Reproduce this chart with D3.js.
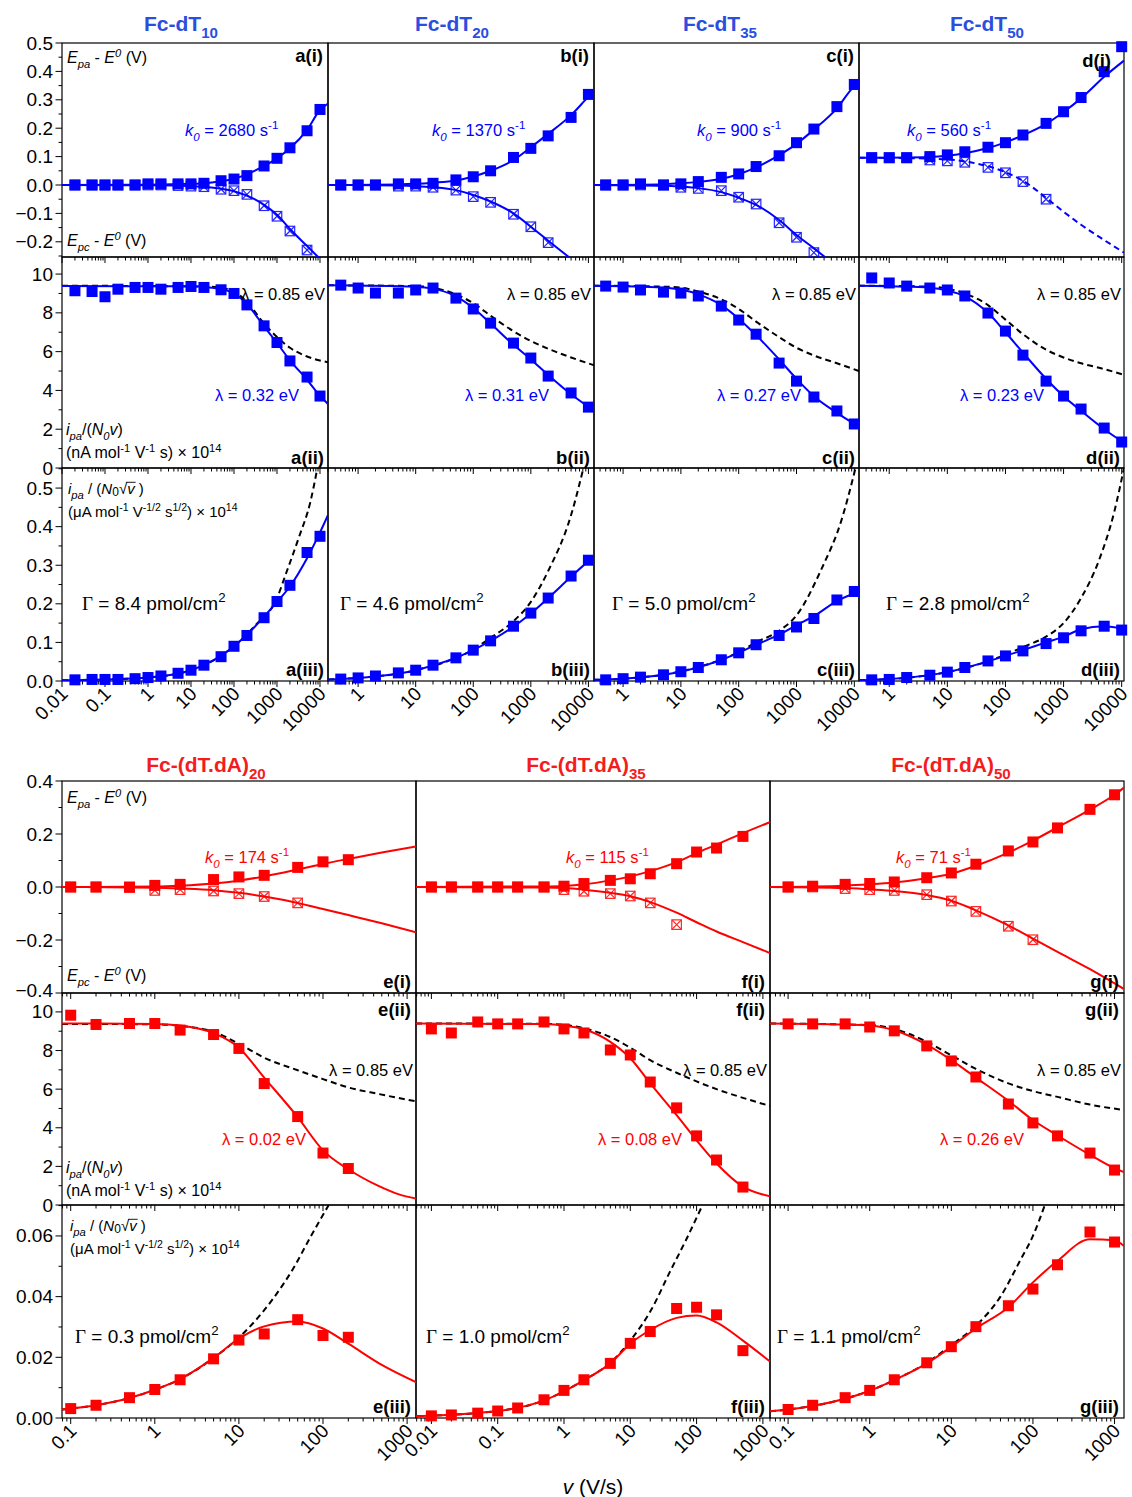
<!DOCTYPE html>
<html><head><meta charset="utf-8">
<script src="https://cdn.jsdelivr.net/npm/d3@7"></script>
<style>
body{margin:0;background:#fff}
svg{display:block}
text{font-family:"Liberation Sans",Arial,sans-serif}
</style>
</head><body>
<svg id="fig" width="1132" height="1497"></svg>
<script>
// ---------- scan rates (V/s) ----------
const vTopA   = [0.02,0.05,0.1,0.2,0.5,1,2,5,10,20,50,100,200,500,1000,2000,5000,10000];
const vTopBCD = [0.5,1,2,5,10,20,50,100,200,500,1000,2000,5000,10000];
const vBotE   = [0.1,0.2,0.5,1,2,5,10,20,50,100,200];
const vBotF   = [0.01,0.02,0.05,0.1,0.2,0.5,1,2,5,10,20,50,100,200,500];
const vBotG   = [0.1,0.2,0.5,1,2,5,10,20,50,100,200,500,1000];

// ---------- axis ranges and ticks ----------
const xRangeTop = [[0.01,15350],[0.3,12500],[0.314,12050],[0.302,10960]];
const xRangeBot = [[0.0788,1276],[0.00586,1280],[0.06,1306]];
const yRangeTop = [[-0.2535,0.5],[0,10.88],[0,0.552]];
const yRangeBot = [[-0.4,0.4],[0,10.98],[0,0.0702]];
const xTicksTopA   = [0.01,0.1,1,10,100,1000,10000];
const xTicksTopBCD = [1,10,100,1000,10000];
const xTicksBotE = [0.1,1,10,100,1000];
const xTicksBotF = [0.01,0.1,1,10,100,1000];
const xTicksBotG = [0.1,1,10,100,1000];
const xLabelsTopA   = ["0.01","0.1","1","10","100","1000","10000"];
const xLabelsTopBCD = ["1","10","100","1000","10000"];
const xLabelsBotE = ["0.1","1","10","100","1000"];
const xLabelsBotF = ["0.01","0.1","1","10","100","1000"];
const xLabelsBotG = ["0.1","1","10","100","1000"];
const yTicksTop1 = [-0.2,-0.1,0,0.1,0.2,0.3,0.4,0.5];
const yTicksTop2 = [0,2,4,6,8,10];
const yTicksTop3 = [0,0.1,0.2,0.3,0.4,0.5];
const yTicksBot1 = [-0.4,-0.2,0,0.2,0.4];
const yTicksBot2 = [0,2,4,6,8,10];
const yTicksBot3 = [0,0.02,0.04,0.06];

// ---------- (i) peak potentials, Epa - E0 and Epc - E0 (V) ----------
const epaA = [0,0,0,0,0,0.004,0.004,0.004,0.004,0.006,0.015,0.021,0.033,0.067,0.094,0.131,0.191,0.266];
const epcA = [0,0,0,0,0,0,0,-0.002,-0.004,-0.006,-0.015,-0.02,-0.033,-0.073,-0.11,-0.162,-0.229,null];
const epaB = [0,0,0,0.004,0.004,0.006,0.018,0.029,0.05,0.097,0.129,0.173,0.238,0.319];
const epcB = [0,0,0,-0.004,-0.004,-0.008,-0.018,-0.041,-0.061,-0.103,-0.147,-0.203,null,null];
const epaC = [0,0,0.004,0,0.004,0.012,0.027,0.039,0.065,0.103,0.149,0.197,0.276,0.354];
const epcC = [0,0,0,0,-0.008,-0.012,-0.02,-0.043,-0.067,-0.133,-0.184,-0.238,null,null];
const epaD = [0.096,0.096,0.096,0.1,0.106,0.117,0.133,0.149,0.176,0.217,0.258,0.308,0.399,0.487];
const epcD = [0.096,0.096,0.096,0.088,0.085,0.08,0.062,0.043,0.012,-0.05,null,null,null,null];
const epaE = [0,0,0,0.006,0.01,0.028,0.038,0.044,0.074,0.095,0.103];
const epcE = [0,0,-0.002,-0.013,-0.01,-0.015,-0.025,-0.036,-0.06,null,null];
const epaF = [0,0,0,0,0,0,0.003,0.013,0.025,0.031,0.05,0.088,0.132,0.147,0.191];
const epcF = [0,0,0,0,0,0,-0.01,-0.016,-0.025,-0.034,-0.06,-0.142,null,null,null];
const epaG = [0,0.003,0.01,0.013,0.019,0.035,0.053,0.086,0.136,0.17,0.223,0.293,0.348];
const epcG = [0,0,-0.006,-0.01,-0.013,-0.029,-0.053,-0.092,-0.148,-0.199,null,null,null];

// fitted peak-potential curves [v, E]
const fitEpaA = [[0.01,0],[1,0.001],[10,0.004],[30,0.009],[100,0.022],[300,0.05],[500,0.067],[1000,0.094],[2000,0.129],[5000,0.194],[10000,0.264],[15350,0.287]];
const fitEpcA = [[0.01,0],[1,-0.001],[10,-0.004],[30,-0.009],[100,-0.022],[300,-0.05],[500,-0.07],[1000,-0.105],[2000,-0.155],[5000,-0.215],[10000,-0.26]];
const fitEpaB = [[0.3,0],[5,0.002],[10,0.004],[20,0.008],[50,0.016],[100,0.03],[200,0.05],[500,0.088],[1000,0.133],[2000,0.18],[5000,0.246],[10000,0.311],[12500,0.331]];
const fitEpcB = [[0.3,0],[5,-0.002],[10,-0.004],[20,-0.008],[50,-0.018],[100,-0.035],[200,-0.058],[500,-0.1],[1000,-0.147],[2000,-0.196],[5000,-0.26]];
const fitEpaC = [[0.31,0],[5,0.003],[10,0.006],[20,0.011],[50,0.022],[100,0.038],[200,0.062],[500,0.105],[1000,0.145],[2000,0.195],[5000,0.27],[10000,0.348],[12050,0.36]];
const fitEpcC = [[0.31,0],[5,-0.003],[10,-0.006],[20,-0.011],[50,-0.025],[100,-0.045],[200,-0.07],[500,-0.123],[1000,-0.176],[2000,-0.223],[3400,-0.26]];
const fitEpaD = [[0.3,0.096],[5,0.099],[20,0.112],[50,0.13],[100,0.15],[200,0.175],[500,0.215],[1000,0.257],[2000,0.305],[5000,0.381],[10960,0.438]];
const dashEpcD = [[0.3,0.096],[5,0.093],[20,0.083],[50,0.066],[100,0.045],[200,0.015],[500,-0.045],[1000,-0.094],[2000,-0.14],[5000,-0.194],[10960,-0.238]];
const fitEpaE = [[0.0788,0],[1,0.002],[2,0.005],[5,0.013],[10,0.024],[20,0.04],[50,0.066],[100,0.087],[200,0.106],[500,0.13],[1276,0.153]];
const fitEpcE = [[0.0788,0],[1,-0.003],[2,-0.006],[5,-0.012],[10,-0.022],[20,-0.036],[50,-0.06],[100,-0.083],[200,-0.106],[500,-0.137],[1276,-0.171]];
const fitEpaF = [[0.00586,0],[0.5,0.002],[1,0.004],[2,0.01],[5,0.025],[10,0.04],[20,0.06],[50,0.094],[100,0.128],[200,0.16],[500,0.203],[1280,0.245]];
const fitEpcF = [[0.00586,0],[0.5,-0.002],[1,-0.004],[2,-0.01],[5,-0.022],[10,-0.035],[20,-0.057],[50,-0.097],[100,-0.133],[200,-0.168],[500,-0.208],[1280,-0.249]];
const fitEpaG = [[0.06,0],[0.5,0.005],[1,0.01],[2,0.017],[5,0.033],[10,0.05],[20,0.08],[50,0.13],[100,0.175],[200,0.225],[500,0.292],[1000,0.348],[1306,0.375]];
const fitEpcG = [[0.06,0],[0.5,-0.004],[1,-0.009],[2,-0.015],[5,-0.03],[10,-0.052],[20,-0.088],[50,-0.145],[100,-0.195],[200,-0.245],[500,-0.31],[1306,-0.385]];

// ---------- (ii) ipa/(N0 v) ----------
const ipvA = [9.14,9.1,8.83,9.22,9.31,9.31,9.22,9.31,9.36,9.31,9.19,9.0,8.41,7.33,6.47,5.52,4.69,3.71];
const ipvB = [9.43,9.28,9.02,9.02,9.18,9.28,8.76,8.2,7.47,6.44,5.67,4.74,3.87,3.14];
const ipvC = [9.38,9.33,9.18,9.07,9.02,8.87,8.35,7.63,6.9,5.41,4.48,3.66,2.94,2.27];
const ipvD = [9.8,9.54,9.38,9.28,9.18,8.87,7.99,7.06,5.82,4.48,3.71,3.04,2.06,1.34];
const ipvE = [9.83,9.35,9.4,9.4,9.06,8.83,8.11,6.29,4.58,2.69,1.89];
const ipvF = [9.12,8.91,9.48,9.38,9.38,9.48,9.12,8.91,8.03,7.77,6.37,5.03,3.58,2.33,0.93];
const ipvG = [9.38,9.38,9.38,9.22,9.02,8.24,7.46,6.63,5.23,4.25,3.58,2.69,1.81];

const fitIpvA = [[0.01,9.38],[10,9.37],[30,9.3],[50,9.22],[100,9.0],[200,8.45],[500,7.3],[1000,6.45],[2000,5.55],[5000,4.55],[10000,3.72],[15350,3.3]];
const lamIpvA = [[0.01,9.4],[30,9.35],[100,9.1],[200,8.55],[500,7.45],[1000,6.75],[2000,6.2],[5000,5.75],[15350,5.45]];
const fitIpvB = [[0.3,9.42],[10,9.35],[20,9.25],[50,8.85],[100,8.25],[200,7.45],[500,6.35],[1000,5.6],[2000,4.8],[5000,3.8],[10000,3.15],[12500,2.95]];
const lamIpvB = [[0.3,9.42],[10,9.38],[20,9.3],[50,8.95],[100,8.5],[200,7.85],[500,7.05],[1000,6.55],[2000,6.15],[5000,5.7],[12500,5.3]];
const fitIpvC = [[0.31,9.4],[5,9.3],[10,9.2],[20,8.95],[50,8.4],[100,7.7],[200,6.85],[500,5.6],[1000,4.6],[2000,3.7],[5000,2.85],[10000,2.3],[12050,2.2]];
const lamIpvC = [[0.31,9.4],[5,9.35],[10,9.3],[20,9.1],[50,8.7],[100,8.2],[200,7.55],[500,6.75],[1000,6.2],[2000,5.8],[5000,5.4],[12050,5.0]];
const fitIpvD = [[0.3,9.4],[2,9.35],[5,9.3],[10,9.15],[20,8.85],[50,8.0],[100,7.0],[200,5.95],[500,4.6],[1000,3.7],[2000,2.95],[5000,2.0],[10960,1.3]];
const lamIpvD = [[0.3,9.4],[5,9.35],[10,9.25],[20,9.0],[50,8.4],[100,7.65],[200,6.9],[500,6.1],[1000,5.7],[2000,5.4],[5000,5.1],[10960,4.8]];
const fitIpvE = [[0.0788,9.4],[1,9.38],[2,9.3],[5,8.9],[10,8.15],[20,6.6],[50,4.55],[100,2.83],[200,1.85],[450,1.0],[800,0.55],[1276,0.34]];
const lamIpvE = [[0.0788,9.38],[1,9.36],[2,9.28],[5,8.97],[10,8.35],[20,7.63],[50,6.98],[100,6.52],[200,6.09],[457,5.75],[1276,5.37]];
const fitIpvF = [[0.00586,9.4],[0.5,9.37],[1,9.3],[2,9.1],[5,8.45],[10,7.6],[20,6.3],[50,4.65],[100,3.35],[200,2.15],[500,0.95],[1280,0.45]];
const lamIpvF = [[0.00586,9.4],[0.5,9.38],[1,9.33],[2,9.15],[5,8.7],[10,8.15],[20,7.5],[50,6.85],[100,6.4],[200,6.0],[500,5.55],[1280,5.13]];
const fitIpvG = [[0.06,9.4],[1,9.3],[2,9.05],[5,8.3],[10,7.5],[20,6.6],[50,5.4],[100,4.4],[200,3.6],[500,2.6],[1000,1.9],[1306,1.7]];
const lamIpvG = [[0.06,9.4],[1,9.32],[2,9.12],[5,8.45],[10,7.75],[20,7.05],[50,6.3],[100,5.9],[200,5.6],[500,5.2],[1306,4.92]];

// ---------- (iii) ipa/(N0 sqrt v) ----------
const ipsA = [0.003,0.004,0.004,0.004,0.006,0.009,0.013,0.02,0.028,0.041,0.063,0.09,0.118,0.164,0.206,0.248,0.333,0.375];
const ipsB = [0.005,0.008,0.013,0.021,0.028,0.041,0.06,0.08,0.104,0.142,0.176,0.215,0.272,0.313];
const ipsC = [0.003,0.006,0.01,0.016,0.024,0.035,0.055,0.073,0.094,0.118,0.14,0.162,0.21,0.232];
const ipsD = [0.003,0.004,0.009,0.015,0.023,0.035,0.052,0.065,0.078,0.097,0.112,0.13,0.142,0.132];
const ipsE = [0.0031,0.0042,0.0067,0.0094,0.0126,0.0195,0.0257,0.0277,0.0324,0.0272,0.0266];
const ipsF = [0.0007,0.001,0.0016,0.0023,0.0033,0.006,0.0091,0.0126,0.018,0.0246,0.0285,0.0361,0.0365,0.034,0.0222];
const ipsG = [0.0028,0.0042,0.0067,0.0091,0.0126,0.0182,0.0235,0.0301,0.037,0.0425,0.0505,0.0613,0.058];

const fitIpsA = [[0.01,0.002],[0.1,0.004],[1,0.009],[10,0.028],[100,0.09],[300,0.14],[1000,0.205],[2000,0.245],[5000,0.318],[10000,0.385],[15350,0.43]];
const revIpsA = [[0.01,0.002],[0.1,0.004],[1,0.009],[10,0.028],[100,0.09],[300,0.142],[1000,0.215],[1590,0.276],[3200,0.371],[6000,0.465],[8700,0.552]];
const fitIpsB = [[0.3,0.004],[1,0.008],[10,0.028],[100,0.08],[1000,0.175],[2000,0.215],[5000,0.27],[10000,0.31],[12500,0.32]];
const revIpsB = [[0.3,0.004],[1,0.008],[10,0.028],[100,0.082],[200,0.112],[500,0.155],[1000,0.205],[2000,0.285],[5000,0.43],[8200,0.552]];
const fitIpsC = [[0.31,0.003],[1,0.006],[10,0.024],[100,0.073],[200,0.094],[500,0.12],[1000,0.145],[2000,0.168],[5000,0.207],[10000,0.226],[12050,0.228]];
const revIpsC = [[0.31,0.003],[1,0.006],[10,0.025],[100,0.075],[200,0.1],[500,0.13],[1000,0.17],[2700,0.29],[6000,0.417],[10500,0.552]];
const fitIpsD = [[0.3,0.002],[1,0.005],[10,0.023],[100,0.065],[200,0.08],[500,0.1],[1000,0.115],[2000,0.134],[5000,0.142],[10960,0.135]];
const revIpsD = [[0.3,0.002],[1,0.005],[10,0.023],[100,0.068],[200,0.088],[500,0.115],[1000,0.15],[2000,0.215],[4000,0.31],[7500,0.44],[10960,0.552]];
const fitIpsE = [[0.0788,0.0028],[0.2,0.0042],[0.5,0.0066],[1,0.0093],[2,0.0128],[5,0.0198],[10,0.0262],[20,0.0302],[50,0.0318],[100,0.0295],[200,0.0245],[500,0.0175],[1276,0.0118]];
const revIpsE = [[0.0788,0.0028],[0.2,0.0042],[0.5,0.0066],[1,0.0093],[2,0.0128],[5,0.0198],[10,0.0265],[25,0.039],[45,0.0496],[72,0.06],[117,0.0702]];
const fitIpsF = [[0.00586,0.0006],[0.1,0.0023],[0.5,0.0058],[1,0.0088],[2,0.0125],[5,0.018],[10,0.0245],[20,0.029],[50,0.033],[100,0.0338],[200,0.0315],[500,0.0255],[1280,0.0186]];
const revIpsF = [[0.00586,0.0006],[0.1,0.0023],[0.5,0.0058],[1,0.0088],[2,0.0125],[5,0.0182],[10,0.0255],[21,0.0359],[39,0.0479],[69,0.0586],[123,0.0702]];
const fitIpsG = [[0.06,0.0022],[0.1,0.0028],[1,0.009],[2,0.0125],[5,0.018],[10,0.0235],[20,0.0295],[50,0.0365],[100,0.0447],[200,0.0518],[500,0.0589],[1000,0.0586],[1306,0.0567]];
const revIpsG = [[0.06,0.0022],[0.1,0.0028],[1,0.009],[2,0.0125],[5,0.0182],[10,0.024],[20,0.0304],[40,0.04],[70,0.052],[100,0.06],[140,0.0702]];

// ---------- annotation values ----------
const chainTop = ["10","20","35","50"];
const chainBot = ["20","35","50"];
const k0Top = ["2680","1370","900","560"];
const k0Bot = ["174","115","71"];
const lambdaTop = ["0.32","0.31","0.27","0.23"];
const lambdaBot = ["0.02","0.08","0.26"];
const lambdaRef = "0.85";
const gammaTop = ["8.4","4.6","5.0","2.8"];
const gammaBot = ["0.3","1.0","1.1"];
const lettersTop = ["a","b","c","d"];
const lettersBot = ["e","f","g"];

// ================= drawing =================
const BLUE = "#0000ff", RED = "#ff0000";
const TITLE_BLUE = "#2a4ee0", TITLE_RED = "#f41c1c";
const svg = d3.select("#fig");
const defs = svg.append("defs");
const L = {};
["axes","curves","open","filled","text"].forEach(k => L[k] = svg.append("g"));
let clipCount = 0;

const colsTop = [[62,328],[328,594],[594,859],[859,1124]];
const rowsTop = [[43,257],[257,468],[468,681]];
const colsBot = [[62,416],[416,770],[770,1124]];
const rowsBot = [[781,993],[993,1205],[1205,1418]];

function rich(sel, x, y, parts, o = {}) {
  const fs = o.size || 16;
  const t = sel.append("text").attr("x", x).attr("y", y)
    .attr("font-size", fs).attr("fill", o.color || "#000")
    .attr("text-anchor", o.anchor || "start");
  if (o.weight) t.attr("font-weight", o.weight);
  let off = 0, idx = 0;
  const overs = [];
  parts.forEach(p => {
    if (typeof p === "string") p = { t: p };
    const target = p.sub ? (p.shift || 0.3) * fs : p.sup ? -(p.shift || 0.4) * fs : 0;
    const ts = t.append("tspan").text(p.t).attr("dy", target - off);
    off = target;
    if (p.sub || p.sup) ts.attr("font-size", (p.scale || 0.7) * fs);
    if (p.size) ts.attr("font-size", p.size);
    if (p.i) ts.attr("font-style", "italic");
    if (p.serif) ts.attr("font-family", "'Liberation Serif','Times New Roman',serif");
    if (p.over) overs.push([idx, idx + p.t.length - 1]);
    idx += p.t.length;
  });
  overs.forEach(([a, b]) => {
    const n = t.node();
    const s = n.getStartPositionOfChar(a), e = n.getEndPositionOfChar(b);
    sel.append("line").attr("x1", s.x - 1).attr("x2", e.x + 1)
      .attr("y1", s.y - fs * 0.78).attr("y2", s.y - fs * 0.78)
      .attr("stroke", o.color || "#000").attr("stroke-width", 0.9);
  });
  return t;
}

function makePanel(c, r, xdom, ydom) {
  const x = d3.scaleLog().domain(xdom).range([c[0], c[1]]);
  const y = d3.scaleLinear().domain(ydom).range([r[1], r[0]]);
  const id = "cp" + (clipCount++);
  defs.append("clipPath").attr("id", id).append("rect")
    .attr("x", c[0]).attr("y", r[0]).attr("width", c[1] - c[0]).attr("height", r[1] - r[0]);
  L.axes.append("rect").attr("x", c[0]).attr("y", r[0])
    .attr("width", c[1] - c[0]).attr("height", r[1] - r[0])
    .attr("fill", "none").attr("stroke", "#000").attr("stroke-width", 1.2);
  return { x, y, c, r, clip: id };
}

function xAxis(P, major, labels) {
  const [a, b] = P.x.domain();
  const ay = P.r[1];
  const g = L.axes.append("g").attr("stroke", "#000").attr("stroke-width", 1);
  for (let d = Math.floor(Math.log10(a)); d <= Math.ceil(Math.log10(b)); d++) {
    for (let k = 1; k <= 9; k++) {
      const v = k * Math.pow(10, d);
      if (v < a * 0.999 || v > b * 1.001) continue;
      const len = k === 1 ? 6 : 3.5;
      g.append("line").attr("x1", P.x(v)).attr("x2", P.x(v)).attr("y1", ay).attr("y2", ay + len);
    }
  }
  if (labels) {
    major.forEach((v, i) => {
      const tx = P.x(v);
      L.text.append("text").attr("text-anchor", "end").attr("font-size", 19)
        .attr("transform", `translate(${tx + 7},${ay + 14}) rotate(-45)`)
        .text(labels[i]);
    });
  }
}

// lowNudge lifts the label sitting on the bottom edge so it clears the panel below
function yAxis(P, major, minorStep, fmt, lowNudge = 0) {
  const [a, b] = P.y.domain();
  const x0 = P.c[0];
  const g = L.axes.append("g").attr("stroke", "#000").attr("stroke-width", 1);
  const n0 = Math.ceil(a / minorStep - 1e-6), n1 = Math.floor(b / minorStep + 1e-6);
  for (let n = n0; n <= n1; n++) {
    const v = n * minorStep;
    const isMajor = major.some(m => Math.abs(m - v) < minorStep * 1e-3);
    g.append("line").attr("x1", x0).attr("x2", x0 - (isMajor ? 6.5 : 3.5))
      .attr("y1", P.y(v)).attr("y2", P.y(v));
  }
  major.forEach(v => {
    const dy = Math.abs(v - a) < 1e-9 ? lowNudge : 0;
    L.text.append("text").attr("x", x0 - 9).attr("y", P.y(v) + 6.5 - dy)
      .attr("text-anchor", "end").attr("font-size", 19).text(d3.format(fmt)(v));
  });
}

function curve(P, pts, color, dashed) {
  L.curves.append("path").attr("clip-path", `url(#${P.clip})`)
    .datum(pts)
    .attr("d", d3.line().x(d => P.x(d[0])).y(d => P.y(d[1])).curve(d3.curveMonotoneX))
    .attr("fill", "none").attr("stroke", color).attr("stroke-width", 2)
    .attr("stroke-dasharray", dashed ? "6,4" : null);
}

function filled(P, xs, ys, color) {
  const s = 11;
  xs.forEach((v, i) => {
    if (ys[i] == null) return;
    L.filled.append("rect").attr("x", P.x(v) - s / 2).attr("y", P.y(ys[i]) - s / 2)
      .attr("width", s).attr("height", s).attr("fill", color);
  });
}

function open(P, xs, ys, color) {
  const s = 9.5;
  xs.forEach((v, i) => {
    if (ys[i] == null) return;
    const cx = P.x(v), cy = P.y(ys[i]);
    const g = L.open.append("g").attr("stroke", color).attr("stroke-width", 1.2)
      .attr("fill", "none").attr("opacity", 0.85);
    g.append("rect").attr("x", cx - s / 2).attr("y", cy - s / 2).attr("width", s).attr("height", s);
    g.append("line").attr("x1", cx - s / 2).attr("y1", cy - s / 2).attr("x2", cx + s / 2).attr("y2", cy + s / 2);
    g.append("line").attr("x1", cx + s / 2).attr("y1", cy - s / 2).attr("x2", cx - s / 2).attr("y2", cy + s / 2);
  });
}

function panelId(x, y, letter, roman) {
  L.text.append("text").attr("x", x).attr("y", y).attr("text-anchor", "end")
    .attr("font-size", 18.5).attr("font-weight", "bold").text(`${letter}(${roman})`);
}

const epLabel = (sel, x, y, which) => rich(sel, x, y,
  [{ t: "E", i: 1 }, { t: which, i: 1, sub: 1 }, " - ", { t: "E", i: 1 }, { t: "0", i: 1, sup: 1 }, " (V)"], { size: 16 });
const ipvLabel = (sel, x, y1, y2) => {
  rich(sel, x, y1, [{ t: "i", i: 1 }, { t: "pa", i: 1, sub: 1 }, "/(", { t: "N", i: 1 }, { t: "0", i: 1, sub: 1 }, { t: "v", i: 1 }, ")"], { size: 16 });
  rich(sel, x, y2, ["(nA mol", { t: "-1", sup: 1 }, " V", { t: "-1", sup: 1 }, " s) × 10", { t: "14", sup: 1 }], { size: 16 });
};
const ipsLabel = (sel, x, y1, y2) => {
  rich(sel, x, y1, [{ t: "i", i: 1 }, { t: "pa", i: 1, sub: 1, scale: 0.75 }, " / (", { t: "N", i: 1 }, { t: "0", sub: 1, scale: 0.8, shift: 0.15 }, "√", { t: "v", i: 1, over: 1 }, " )"], { size: 15 });
  rich(sel, x, y2, ["(μA mol", { t: "-1", sup: 1 }, " V", { t: "-1/2", sup: 1 }, " s", { t: "1/2", sup: 1 }, ") × 10", { t: "14", sup: 1 }], { size: 15 });
};
const k0Label = (x, y, val, color) => rich(L.text, x, y,
  [{ t: "k", i: 1 }, { t: "0", i: 1, sub: 1 }, ` = ${val} s`, { t: "-1", sup: 1 }], { size: 16.5, color });
const lamLabel = (x, y, val, color, anchor) => rich(L.text, x, y, [`λ = ${val} eV`], { size: 16.5, color, anchor });
const gammaLabel = (x, y, val) => rich(L.text, x, y,
  [{ t: "Γ", serif: 1, size: 19 }, ` = ${val} pmol/cm`, { t: "2", sup: 1 }], { size: 19 });

// ---------------- top block: Fc-dTn ----------------
const topV = [vTopA, vTopBCD, vTopBCD, vTopBCD];
const topEpa = [epaA, epaB, epaC, epaD], topEpc = [epcA, epcB, epcC, epcD];
const topFitEpa = [fitEpaA, fitEpaB, fitEpaC, fitEpaD];
const topFitEpc = [fitEpcA, fitEpcB, fitEpcC, dashEpcD];
const topIpv = [ipvA, ipvB, ipvC, ipvD], topFitIpv = [fitIpvA, fitIpvB, fitIpvC, fitIpvD], topLamIpv = [lamIpvA, lamIpvB, lamIpvC, lamIpvD];
const topIps = [ipsA, ipsB, ipsC, ipsD], topFitIps = [fitIpsA, fitIpsB, fitIpsC, fitIpsD], topRevIps = [revIpsA, revIpsB, revIpsC, revIpsD];
const titleXTop = [181, 452, 720, 987];
const k0XTop = [185, 432, 697, 907];
const lamXTop = [215, 465, 717, 960];
const gamXTop = [82, 340, 612, 886];

colsTop.forEach((c, i) => {
  const xt = i === 0 ? xTicksTopA : xTicksTopBCD, xl = i === 0 ? xLabelsTopA : xLabelsTopBCD;
  const v = topV[i];
  // (i) peak potentials
  const P1 = makePanel(c, rowsTop[0], xRangeTop[i], yRangeTop[0]);
  xAxis(P1, xt, null);
  if (i === 0) yAxis(P1, yTicksTop1, 0.05, ".1f");
  curve(P1, topFitEpa[i], BLUE, false);
  curve(P1, topFitEpc[i], BLUE, i === 3);
  open(P1, v, topEpc[i], BLUE);
  filled(P1, v, topEpa[i], BLUE);
  k0Label(k0XTop[i], 136, k0Top[i], BLUE);
  if (i === 3) panelId(c[1] - 13, rowsTop[0][0] + 24, lettersTop[i], "i");
  else panelId(c[1] - 5, rowsTop[0][0] + 19, lettersTop[i], "i");
  // (ii) normalised current
  const P2 = makePanel(c, rowsTop[1], xRangeTop[i], yRangeTop[1]);
  xAxis(P2, xt, null);
  if (i === 0) yAxis(P2, yTicksTop2, 1, "d");
  curve(P2, topLamIpv[i], "#000", true);
  curve(P2, topFitIpv[i], BLUE, false);
  filled(P2, v, topIpv[i], BLUE);
  lamLabel(c[1] - 3, 300, lambdaRef, "#000", "end");
  lamLabel(lamXTop[i], 401, lambdaTop[i], BLUE, "start");
  panelId(c[1] - 4, rowsTop[1][1] - 4, lettersTop[i], "ii");
  // (iii) current over sqrt(v)
  const P3 = makePanel(c, rowsTop[2], xRangeTop[i], yRangeTop[2]);
  xAxis(P3, xt, xl);
  if (i === 0) yAxis(P3, yTicksTop3, 0.05, ".1f");
  curve(P3, topRevIps[i], "#000", true);
  curve(P3, topFitIps[i], BLUE, false);
  filled(P3, v, topIps[i], BLUE);
  gammaLabel(gamXTop[i], 610, gammaTop[i]);
  panelId(c[1] - 4, rowsTop[2][1] - 5, lettersTop[i], "iii");
  // title
  rich(L.text, titleXTop[i], 31, ["Fc-dT", { t: chainTop[i], sub: 1, scale: 0.72, shift: 0.32 }],
    { size: 21, weight: "bold", color: TITLE_BLUE, anchor: "middle" });
});
epLabel(L.text, 67, 63, "pa");
epLabel(L.text, 67, 246, "pc");
ipvLabel(L.text, 66, 435, 458);
ipsLabel(L.text, 68, 494, 517);

// ---------------- bottom block: Fc-(dT.dA)n ----------------
const botV = [vBotE, vBotF, vBotG];
const botEpa = [epaE, epaF, epaG], botEpc = [epcE, epcF, epcG];
const botFitEpa = [fitEpaE, fitEpaF, fitEpaG], botFitEpc = [fitEpcE, fitEpcF, fitEpcG];
const botIpv = [ipvE, ipvF, ipvG], botFitIpv = [fitIpvE, fitIpvF, fitIpvG], botLamIpv = [lamIpvE, lamIpvF, lamIpvG];
const botIps = [ipsE, ipsF, ipsG], botFitIps = [fitIpsE, fitIpsF, fitIpsG], botRevIps = [revIpsE, revIpsF, revIpsG];
const botXT = [xTicksBotE, xTicksBotF, xTicksBotG], botXL = [xLabelsBotE, xLabelsBotF, xLabelsBotG];
const titleXBot = [206, 586, 951];
const k0XBot = [205, 566, 896];
const lamXBot = [222, 598, 940];
const gamXBot = [75, 426, 777];

colsBot.forEach((c, i) => {
  const v = botV[i];
  const P1 = makePanel(c, rowsBot[0], xRangeBot[i], yRangeBot[0]);
  xAxis(P1, botXT[i], null);
  if (i === 0) yAxis(P1, yTicksBot1, 0.1, ".1f", 3);
  curve(P1, botFitEpa[i], RED, false);
  curve(P1, botFitEpc[i], RED, false);
  open(P1, v, botEpc[i], RED);
  filled(P1, v, botEpa[i], RED);
  k0Label(k0XBot[i], 863, k0Bot[i], RED);
  panelId(c[1] - 5, rowsBot[0][1] - 5, lettersBot[i], "i");

  const P2 = makePanel(c, rowsBot[1], xRangeBot[i], yRangeBot[1]);
  xAxis(P2, botXT[i], null);
  if (i === 0) yAxis(P2, yTicksBot2, 1, "d");
  curve(P2, botLamIpv[i], "#000", true);
  curve(P2, botFitIpv[i], RED, false);
  filled(P2, v, botIpv[i], RED);
  lamLabel(c[1] - 3, 1076, lambdaRef, "#000", "end");
  lamLabel(lamXBot[i], 1145, lambdaBot[i], RED, "start");
  panelId(c[1] - 5, rowsBot[1][0] + 23, lettersBot[i], "ii");

  const P3 = makePanel(c, rowsBot[2], xRangeBot[i], yRangeBot[2]);
  xAxis(P3, botXT[i], botXL[i]);
  if (i === 0) yAxis(P3, yTicksBot3, 0.01, ".2f");
  curve(P3, botRevIps[i], "#000", true);
  curve(P3, botFitIps[i], RED, false);
  filled(P3, v, botIps[i], RED);
  gammaLabel(gamXBot[i], 1343, gammaBot[i]);
  panelId(c[1] - 5, rowsBot[2][1] - 5, lettersBot[i], "iii");

  rich(L.text, titleXBot[i], 772, ["Fc-(dT.dA)", { t: chainBot[i], sub: 1, scale: 0.72, shift: 0.32 }],
    { size: 21, weight: "bold", color: TITLE_RED, anchor: "middle" });
});
epLabel(L.text, 67, 803, "pa");
epLabel(L.text, 67, 981, "pc");
ipvLabel(L.text, 66, 1173, 1196);
ipsLabel(L.text, 70, 1231, 1254);

// shared x-axis title
rich(L.text, 593, 1494, [{ t: "v", i: 1 }, " (V/s)"], { size: 21, anchor: "middle" });
</script>
</body></html>
